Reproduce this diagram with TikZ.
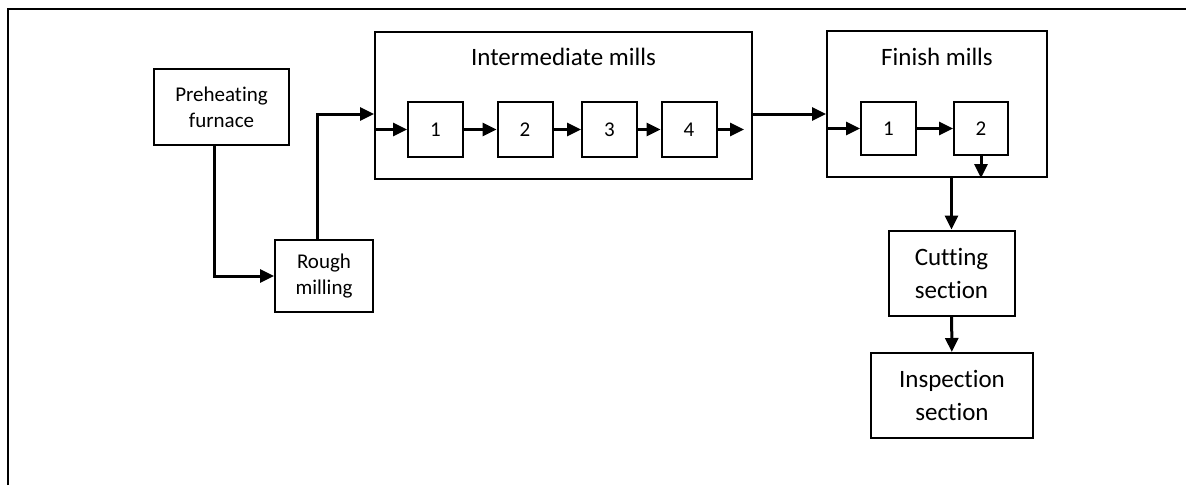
\documentclass[tikz,border=0pt]{standalone}
\usepackage{fontspec}
\setmainfont{Carlito}[Ligatures=NoCommon]
\usetikzlibrary{arrows.meta}

\begin{document}
\begin{tikzpicture}[x=1pt,y=-1pt,->,>={Triangle[length=14pt,width=13pt]},line width=3pt,
            box/.style={rectangle,draw,-,line width=2pt,align=center,inner sep=0pt,font=\fontsize{21}{26}\selectfont},
            big box/.style={box,font=\fontsize{25}{33}\selectfont},
            mill/.style={box,minimum width=55pt,minimum height=55pt},
            title/.style={font=\fontsize{25}{28}\selectfont}]

        \useasboundingbox (0,0) rectangle (1186,485);
        \draw[-,line width=2.5pt] (8,485) |- (1186,9);

        \node[box,minimum width=135pt,minimum height=76pt] (pre) at (221.5,107) {Preheating\\furnace};
        \node[box,minimum width=98pt,minimum height=72pt] (rough) at (324,276) {Rough\\milling};

        \node[box,minimum width=377pt,minimum height=147pt] (inter) at (563.5,105.5) {};
        \node[title] (intertitle) at (563.5,57) {Intermediate mills};
        \node[mill] (i1) at (435.5,129.5) {1};
        \node[mill] (i2) at (525,129.5) {2};
        \node[mill] (i3) at (609.5,129.5) {3};
        \node[mill] (i4) at (689,129.5) {4};
        \coordinate (iout) at (744,129.5);

        \node[box,minimum width=220pt,minimum height=146pt] (fin) at (937,104) {};
        \node[title] (fintitle) at (937,57) {Finish mills};
        \node[mill,minimum height=53pt] (f1) at (888.5,128.5) {1};
        \node[mill,minimum height=53pt,minimum width=54pt] (f2) at (981,128.5) {2};

        \node[big box,minimum width=126pt,minimum height=85pt] (cut) at (951.5,273) {Cutting\\section};
        \node[big box,minimum width=162pt,minimum height=85pt] (insp) at (952,395.5) {Inspection\\section};

        \draw ([xshift=-7pt]pre.south) |- (rough.west);
        \draw ([xshift=-7pt]rough.north) |- ([yshift=-8.5pt]inter.west);
        \draw (inter.west |- i1.west) -- (i1.west);
        \path (i1) edge (i2)
        (i2) edge (i3)
        (i3) edge (i4)
        (i4) edge (iout);
        \draw ([yshift=-8.5pt]inter.east) -- ([yshift=-8.5pt]inter.east -| fin.west);
        \draw (fin.west |- f1.west) -- (f1.west);
        \path (f1) edge (f2)
        (f2.south) edge (f2.south |- fin.south)
        (cut.north |- fin.south) edge (cut.north)
        (cut) edge (insp);
    \end{tikzpicture}
\end{document}
